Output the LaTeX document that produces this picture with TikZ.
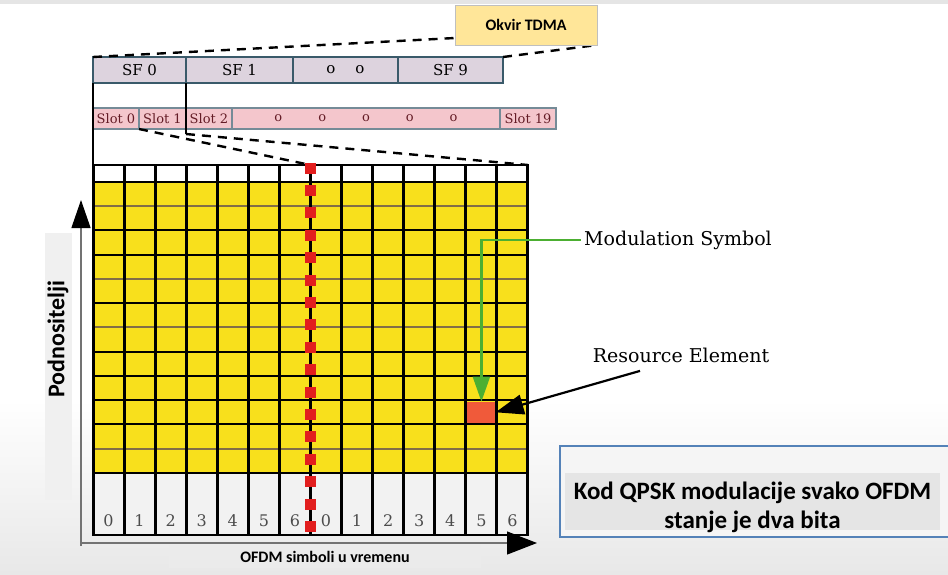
\documentclass[tikz,border=0pt]{standalone}
\usepackage{fontspec}
\usetikzlibrary{arrows.meta, positioning, calc}
\newfontfamily\carlito{Carlito}
\newfontfamily\dvserif{DejaVu Serif}
\definecolor{cellyellow}{RGB}{248, 224, 28}
\definecolor{sfmauve}{RGB}{221, 211, 222}
\definecolor{sfedge}{RGB}{58, 90, 106}
\definecolor{slotpink}{RGB}{244, 198, 204}
\definecolor{slottext}{RGB}{100, 28, 38}
\definecolor{tdmagold}{RGB}{255, 230, 153}
\definecolor{markred}{RGB}{226, 30, 30}
\definecolor{reorange}{RGB}{240, 90, 58}
\definecolor{arrowgreen}{RGB}{76, 175, 50}
\definecolor{noteblue}{RGB}{84, 130, 184}
\definecolor{rulebrown}{RGB}{130, 110, 70}

\tikzset{
  sfbox/.style={draw=sfedge, fill=sfmauve, line width=1.4pt, minimum height=26pt, inner sep=0pt, outer sep=0pt,
    font=\dvserif\fontsize{15}{15}\selectfont, text=black, anchor=north west},
  slotbox/.style={draw=sfedge!70, fill=slotpink, line width=1.2pt, minimum height=21pt, inner sep=0pt, outer sep=0pt,
    font=\dvserif\fontsize{13}{13}\selectfont, text=slottext, anchor=north west},
  callout/.style={font=\dvserif\fontsize{19}{19}\selectfont, text=black},
  numlabel/.style={font=\dvserif\fontsize{16}{16}\selectfont, text=black!70},
  zoomdash/.style={line width=2.4pt, dash pattern=on 9pt off 7pt},
}

\begin{document}
\begin{tikzpicture}[x=1pt, y=-1pt]
  \useasboundingbox (0,0) rectangle (948,574);
  \fill[white] (0,0) rectangle (948,574);
  \shade[top color=white, bottom color=black!9] (0,400) rectangle (948,574);
  \fill[black!10] (0,0) rectangle (948,4);
  \fill[black!6] (45,233) rectangle (72,500);

  % mreza
  \fill[white] (93,165) rectangle (528,182);
  \fill[cellyellow] (93,181.7) rectangle (528,473);
  \fill[black!5] (93,473) rectangle (528,535);
  \foreach \r in {0,...,12}
    \draw[line width=2pt] (93,181.7+\r*24.27) -- (528,181.7+\r*24.27);
  \foreach \r in {1,4,6,11}
    \draw[rulebrown, line width=2.2pt] (93,181.7+\r*24.27) -- (528,181.7+\r*24.27);
  \foreach \c in {0,...,14}
    \draw[line width=3pt] (93+\c*31.07,165) -- (93+\c*31.07,535);
  \draw[line width=1.2pt] (93,165) rectangle (528,535);
  \coordinate (gridnw) at (93,165);
  \coordinate (gridmid) at (310.5,165);
  \coordinate (gridne) at (528,165);

  \foreach \c in {0,...,13} {
    \pgfmathtruncatemacro\n{mod(\c,7)}
    \node[numlabel] (n\c) at (108.5+\c*31.07,521) {\n};
  }

  % granica slotova
  \foreach \k in {0,...,16}
    \fill[markred] (305,162.5+\k*22.4) rectangle ++(11,11);

  \node[fill=reorange, minimum width=28pt, minimum height=21pt, inner sep=0pt] (re) at (481.4,412.3) {};

  % okvir
  \node[sfbox, minimum width=93pt] (sf0) at (93,57) {SF 0};
  \node[sfbox, minimum width=107pt, right=0pt of sf0] (sf1) {SF 1};
  \node[sfbox, minimum width=105pt, right=0pt of sf1] (sfdots) {o\hspace{20pt}o};
  \node[sfbox, minimum width=105pt, right=0pt of sfdots] (sf9) {SF 9};

  \node[slotbox, minimum width=46pt] (slot0) at (93,108) {Slot 0};
  \node[slotbox, minimum width=47pt, right=0pt of slot0] (slot1) {Slot 1};
  \node[slotbox, minimum width=46pt, right=0pt of slot1] (slot2) {Slot 2};
  \node[slotbox, minimum width=268pt, right=0pt of slot2] (slotdots) {o\hspace{36pt}o\hspace{36pt}o\hspace{36pt}o\hspace{36pt}o};
  \node[slotbox, minimum width=56pt, right=0pt of slotdots] (slot19) {Slot 19};

  \coordinate (sftail) at ($(slot2.south west)+(0,5)$);
  \draw[line width=2.6pt] (sf0.south west) -- (gridnw);
  \draw[line width=2.2pt] (sf1.south west) -- (sftail);
  \draw[zoomdash] (slot1.south west) -- (gridmid);
  \draw[zoomdash] (sftail) -- (gridne);

  \coordinate (framel) at (455,38);
  \coordinate (framer) at (597,45);
  \draw[zoomdash] (sf0.north west) -- (framel);
  \draw[zoomdash] (sf9.north east) -- (framer);
  \node[draw=black!25, fill=tdmagold, minimum width=142pt, minimum height=40pt,
    font=\carlito\bfseries\fontsize{16}{16}\selectfont] (tdma) at (526,25) {Okvir TDMA};

  % osi
  \coordinate (yfoot) at (81,546);
  \coordinate (ytop) at (81,200);
  \coordinate (xfoot) at (81,543);
  \coordinate (xtip) at (537,543);
  \draw[black!55, line width=1.2pt, -{Triangle[length=28pt, width=19pt, color=black]}] (yfoot) -- (ytop);
  \draw[black!55, line width=1.2pt, -{Triangle[length=30pt, width=23pt, color=black]}] (xfoot) -- (xtip);

  \node[font=\carlito\bfseries\fontsize{24}{24}\selectfont, rotate=90] (carriers) at (58,339) {Podnositelji};
  \node[fill=black!8, minimum width=312pt, minimum height=23pt, inner sep=0pt,
    font=\carlito\bfseries\fontsize{16}{16}\selectfont] (timelabel) at (325,556.5) {OFDM simboli u vremenu};

  % oznake
  \node[callout] (msym) at (678,240) {Modulation Symbol};
  \node[callout] (relabel) at (681,355) {Resource Element};
  \coordinate (retail) at ($(relabel.south)+(-41,5)$);
  \draw[arrowgreen, line width=2.2pt, -{Triangle[length=25pt, width=17pt]}] (msym.west) -| (re.north);
  \draw[line width=2.2pt, -{Triangle[length=28pt, width=20pt]}] (retail) -- (re.east);

  \node[draw=noteblue, line width=2.5pt, fill=black!4, minimum width=395pt, minimum height=91pt] (notebox) at (757.5,491.5) {};
  \fill[black!10] (565,473) rectangle (940,530);
  \node[align=center, font=\carlito\bfseries\fontsize{25}{29}\selectfont] (note) at (752.5,507) {Kod QPSK modulacije svako OFDM\\stanje je dva bita};
\end{tikzpicture}
\end{document}
